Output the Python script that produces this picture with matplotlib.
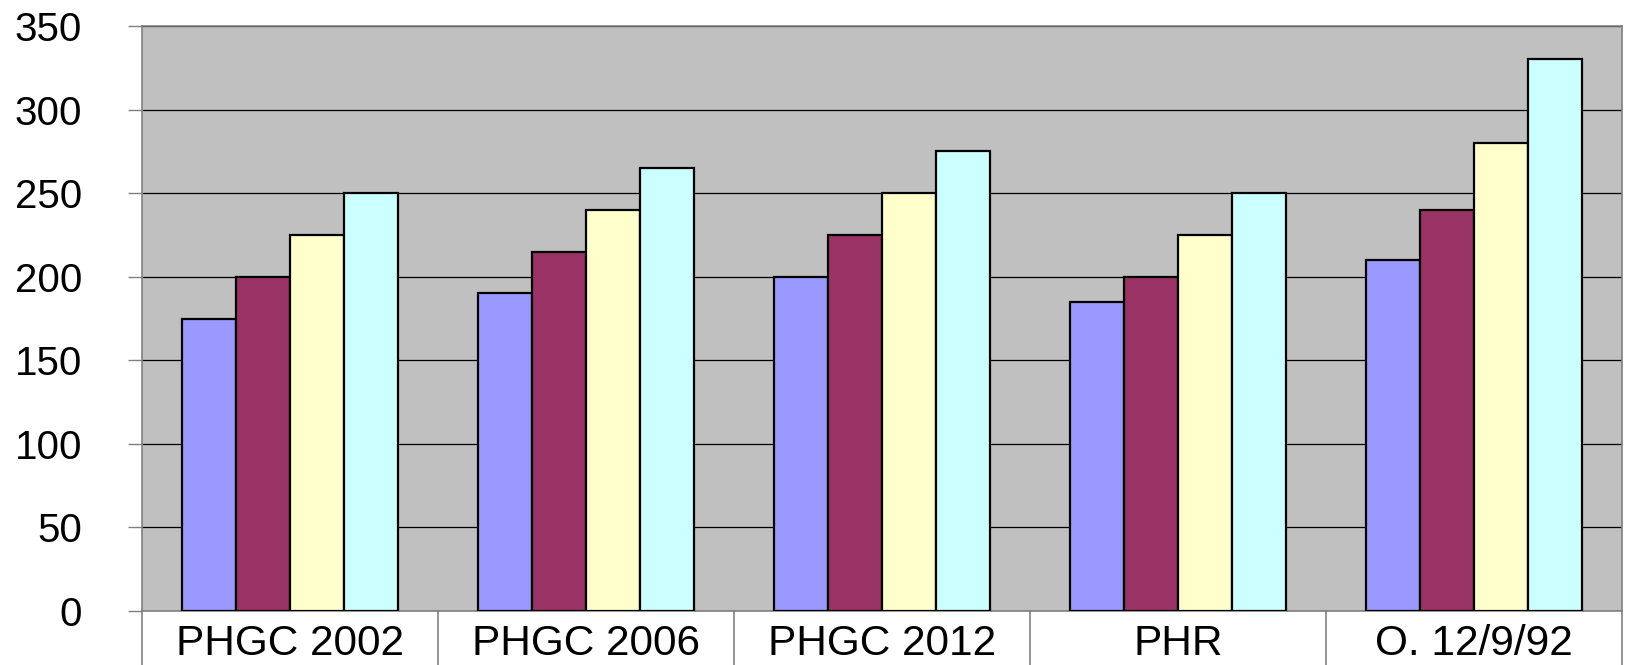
import matplotlib
matplotlib.use("Agg")
import matplotlib.pyplot as plt
import numpy as np

categories = ["PHGC 2002", "PHGC 2006", "PHGC 2012", "PHR", "O. 12/9/92"]
series1 = [175, 190, 200, 185, 210]
series2 = [200, 215, 225, 200, 240]
series3 = [225, 240, 250, 225, 280]
series4 = [250, 265, 275, 250, 330]
yticks = [0, 50, 100, 150, 200, 250, 300, 350]

colors = ["#9999FF", "#993366", "#FFFFCC", "#CCFFFF"]

plt.rcParams['font.family'] = ['Liberation Sans', 'DejaVu Sans']

fig = plt.figure(figsize=(16.27, 6.65), dpi=100)
ax = fig.add_axes([0.0873, 0.0812, 0.9096, 0.8797])
ax.set_facecolor("#C0C0C0")

n = len(categories)
x = np.arange(n)
bw = 1.0 / (4 + 1.5)
allseries = [series1, series2, series3, series4]
for i, s in enumerate(allseries):
    offs = (i - 1.5) * bw
    ax.bar(x + offs, s, width=bw, color=colors[i], edgecolor="black",
           linewidth=1.6, zorder=3)

ax.set_xlim(-0.5, n - 0.5)
ax.set_ylim(0, 350)
ax.set_yticks(yticks)
ax.set_yticklabels([str(v) for v in yticks], fontsize=29)
ax.yaxis.grid(True, color="black", linewidth=0.9, zorder=1)
ax.set_axisbelow(True)
ax.tick_params(axis='y', length=10, width=1, color="#808080", pad=33)
ax.set_xticks([])

for sp in ["top", "right", "left", "bottom"]:
    ax.spines[sp].set_color("#808080")
    ax.spines[sp].set_linewidth(1.2)

# category label boxes below the axis
for b in np.arange(n + 1) - 0.5:
    ax.plot([b, b], [0, -40], color="#808080", linewidth=1.2,
            clip_on=False, transform=ax.transData, zorder=5)
for i, c in enumerate(categories):
    ax.text(x[i], -26.5, c, ha="center", va="baseline", fontsize=30.5,
            transform=ax.transData, clip_on=False)

fig.savefig("out.png", dpi=100)
